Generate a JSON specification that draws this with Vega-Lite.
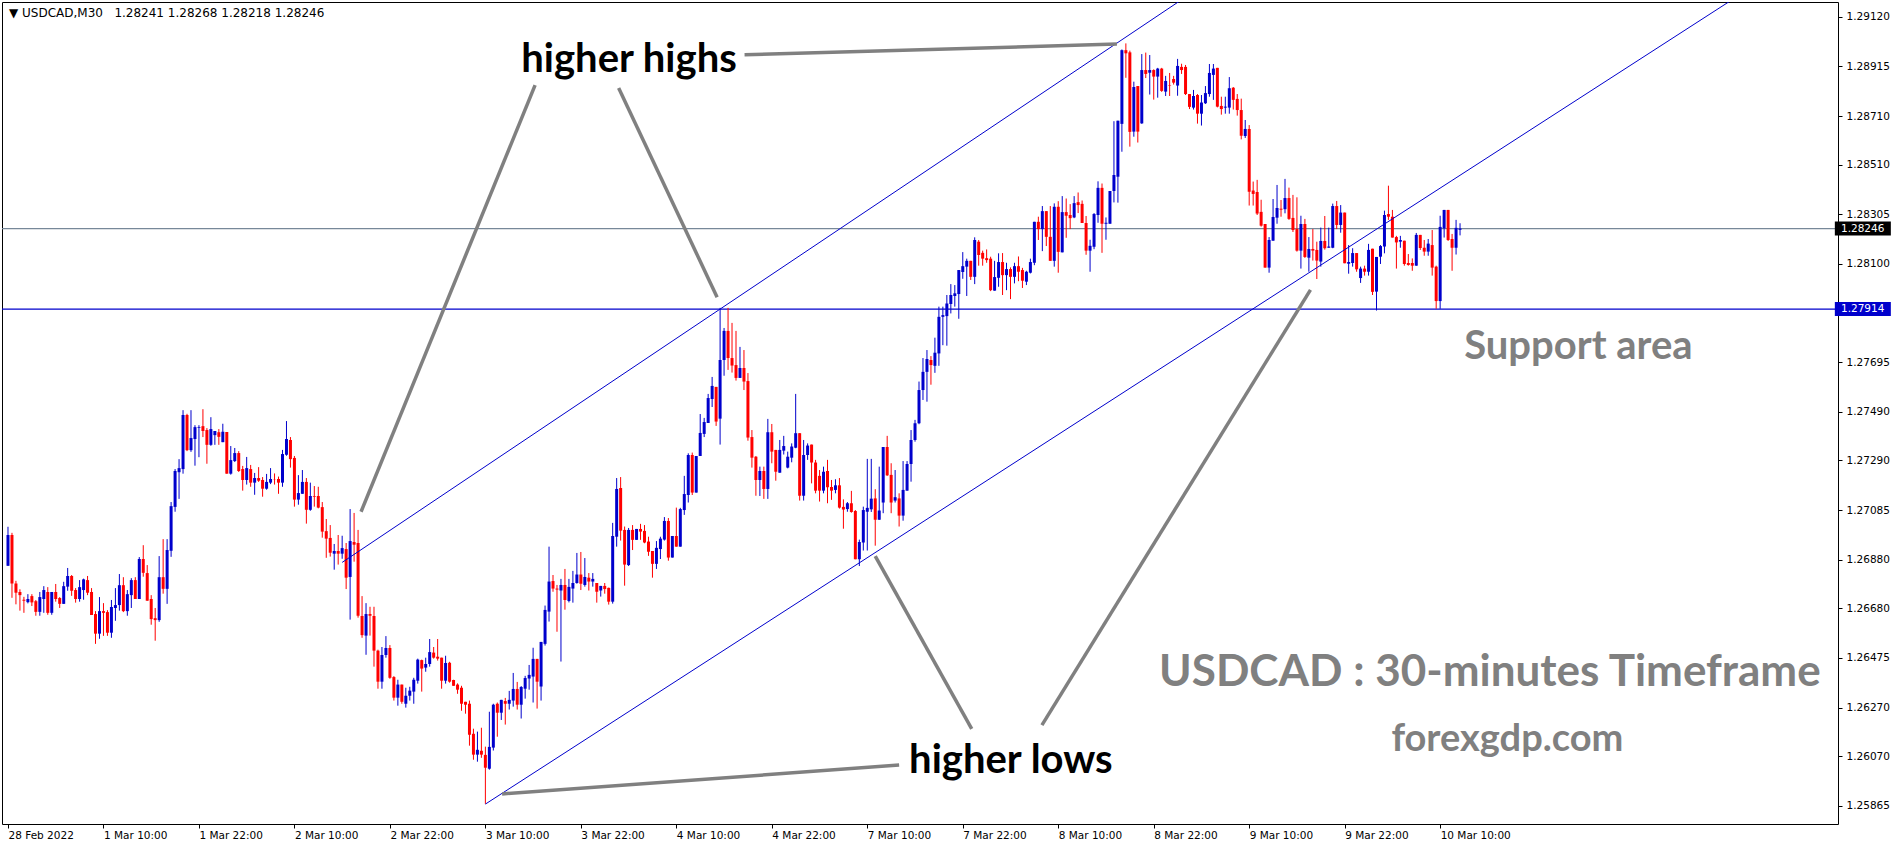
{
  "$schema": "https://vega.github.io/schema/vega-lite/v6.json",
  "description": "USDCAD M30 candlestick chart with rising channel, support area and annotations.",
  "width": 1836,
  "height": 822,
  "autosize": {"type": "none"},
  "padding": {"left": 2, "top": 2, "right": 64, "bottom": 24},
  "background": "#ffffff",
  "config": {
    "view": {"stroke": "#000000", "strokeWidth": 1},
    "axis": {"grid": false, "domain": false, "labelFont": "DejaVu Sans", "labelFontSize": 10.5, "labelColor": "#000000", "tickColor": "#000000", "tickSize": 4}
  },
  "datasets": {
    "candles": [
      {"i":0,"o":1.26855,"h":1.27016,"l":1.26855,"c":1.26982},
      {"i":1,"o":1.26982,"h":1.26991,"l":1.26723,"c":1.26782},
      {"i":2,"o":1.26782,"h":1.26793,"l":1.26696,"c":1.26744},
      {"i":3,"o":1.26747,"h":1.26758,"l":1.26670,"c":1.26734},
      {"i":4,"o":1.26715,"h":1.26727,"l":1.26661,"c":1.26711},
      {"i":5,"o":1.26705,"h":1.26738,"l":1.26700,"c":1.26718},
      {"i":6,"o":1.26730,"h":1.26738,"l":1.26689,"c":1.26704},
      {"i":7,"o":1.26709,"h":1.26714,"l":1.26649,"c":1.26665},
      {"i":8,"o":1.26665,"h":1.26747,"l":1.26649,"c":1.26726},
      {"i":9,"o":1.26718,"h":1.26771,"l":1.26661,"c":1.26755},
      {"i":10,"o":1.26747,"h":1.26767,"l":1.26653,"c":1.26661},
      {"i":11,"o":1.26661,"h":1.26747,"l":1.26653,"c":1.26747},
      {"i":12,"o":1.26747,"h":1.26780,"l":1.26707,"c":1.26718},
      {"i":13,"o":1.26722,"h":1.26726,"l":1.26681,"c":1.26698},
      {"i":14,"o":1.26698,"h":1.26789,"l":1.26698,"c":1.26771},
      {"i":15,"o":1.26769,"h":1.26846,"l":1.26752,"c":1.26813},
      {"i":16,"o":1.26813,"h":1.26817,"l":1.26731,"c":1.26752},
      {"i":17,"o":1.26755,"h":1.26763,"l":1.26703,"c":1.26718},
      {"i":18,"o":1.26718,"h":1.26796,"l":1.26707,"c":1.26767},
      {"i":19,"o":1.26755,"h":1.26802,"l":1.26715,"c":1.26799},
      {"i":20,"o":1.26796,"h":1.26813,"l":1.26734,"c":1.26744},
      {"i":21,"o":1.26747,"h":1.26763,"l":1.26652,"c":1.26652},
      {"i":22,"o":1.26656,"h":1.26668,"l":1.26533,"c":1.26575},
      {"i":23,"o":1.26575,"h":1.26726,"l":1.26554,"c":1.26668},
      {"i":24,"o":1.26668,"h":1.26701,"l":1.26566,"c":1.26661},
      {"i":25,"o":1.26664,"h":1.26672,"l":1.26566,"c":1.26579},
      {"i":26,"o":1.26579,"h":1.26714,"l":1.26558,"c":1.26685},
      {"i":27,"o":1.26681,"h":1.26763,"l":1.26628,"c":1.26693},
      {"i":28,"o":1.26693,"h":1.26821,"l":1.26670,"c":1.26775},
      {"i":29,"o":1.26775,"h":1.26808,"l":1.26664,"c":1.26668},
      {"i":30,"o":1.26668,"h":1.26755,"l":1.26649,"c":1.26738},
      {"i":31,"o":1.26734,"h":1.26804,"l":1.26681,"c":1.26796},
      {"i":32,"o":1.26796,"h":1.26808,"l":1.26718,"c":1.26718},
      {"i":33,"o":1.26718,"h":1.26891,"l":1.26718,"c":1.26883},
      {"i":34,"o":1.26883,"h":1.26940,"l":1.26810,"c":1.26826},
      {"i":35,"o":1.26825,"h":1.26858,"l":1.26711,"c":1.26711},
      {"i":36,"o":1.26718,"h":1.26734,"l":1.26612,"c":1.26635},
      {"i":37,"o":1.26639,"h":1.26681,"l":1.26546,"c":1.26631},
      {"i":38,"o":1.26631,"h":1.26895,"l":1.26624,"c":1.26808},
      {"i":39,"o":1.26808,"h":1.26965,"l":1.26740,"c":1.26760},
      {"i":40,"o":1.26760,"h":1.26965,"l":1.26698,"c":1.26920},
      {"i":41,"o":1.26917,"h":1.27118,"l":1.26892,"c":1.27101},
      {"i":42,"o":1.27098,"h":1.27254,"l":1.27078,"c":1.27246},
      {"i":43,"o":1.27241,"h":1.27295,"l":1.27131,"c":1.27258},
      {"i":44,"o":1.27254,"h":1.27497,"l":1.27235,"c":1.27477},
      {"i":45,"o":1.27477,"h":1.27482,"l":1.27328,"c":1.27332},
      {"i":46,"o":1.27332,"h":1.27497,"l":1.27325,"c":1.27382},
      {"i":47,"o":1.27378,"h":1.27435,"l":1.27268,"c":1.27427},
      {"i":48,"o":1.27424,"h":1.27435,"l":1.27303,"c":1.27427},
      {"i":49,"o":1.27431,"h":1.27501,"l":1.27386,"c":1.27411},
      {"i":50,"o":1.27415,"h":1.27423,"l":1.27276,"c":1.27354},
      {"i":51,"o":1.27354,"h":1.27468,"l":1.27350,"c":1.27419},
      {"i":52,"o":1.27394,"h":1.27411,"l":1.27354,"c":1.27411},
      {"i":53,"o":1.27406,"h":1.27419,"l":1.27354,"c":1.27387},
      {"i":54,"o":1.27365,"h":1.27441,"l":1.27365,"c":1.27408},
      {"i":55,"o":1.27407,"h":1.27407,"l":1.27235,"c":1.27235},
      {"i":56,"o":1.27235,"h":1.27349,"l":1.27231,"c":1.27291},
      {"i":57,"o":1.27287,"h":1.27341,"l":1.27283,"c":1.27320},
      {"i":58,"o":1.27320,"h":1.27328,"l":1.27242,"c":1.27246},
      {"i":59,"o":1.27254,"h":1.27267,"l":1.27165,"c":1.27209},
      {"i":60,"o":1.27209,"h":1.27304,"l":1.27190,"c":1.27258},
      {"i":61,"o":1.27254,"h":1.27271,"l":1.27181,"c":1.27198},
      {"i":62,"o":1.27198,"h":1.27238,"l":1.27148,"c":1.27217},
      {"i":63,"o":1.27217,"h":1.27262,"l":1.27201,"c":1.27206},
      {"i":64,"o":1.27209,"h":1.27221,"l":1.27140,"c":1.27173},
      {"i":65,"o":1.27173,"h":1.27234,"l":1.27169,"c":1.27201},
      {"i":66,"o":1.27198,"h":1.27258,"l":1.27192,"c":1.27213},
      {"i":67,"o":1.27213,"h":1.27236,"l":1.27190,"c":1.27212},
      {"i":68,"o":1.27213,"h":1.27223,"l":1.27152,"c":1.27198},
      {"i":69,"o":1.27198,"h":1.27333,"l":1.27181,"c":1.27316},
      {"i":70,"o":1.27313,"h":1.27452,"l":1.27309,"c":1.27378},
      {"i":71,"o":1.27374,"h":1.27386,"l":1.27260,"c":1.27295},
      {"i":72,"o":1.27300,"h":1.27308,"l":1.27099,"c":1.27128},
      {"i":73,"o":1.27128,"h":1.27229,"l":1.27107,"c":1.27155},
      {"i":74,"o":1.27152,"h":1.27250,"l":1.27152,"c":1.27201},
      {"i":75,"o":1.27201,"h":1.27217,"l":1.27029,"c":1.27086},
      {"i":76,"o":1.27086,"h":1.27198,"l":1.27082,"c":1.27143},
      {"i":77,"o":1.27143,"h":1.27184,"l":1.27099,"c":1.27140},
      {"i":78,"o":1.27143,"h":1.27181,"l":1.27092,"c":1.27095},
      {"i":79,"o":1.27097,"h":1.27118,"l":1.26971,"c":1.26996},
      {"i":80,"o":1.26998,"h":1.27048,"l":1.26888,"c":1.26967},
      {"i":81,"o":1.26970,"h":1.27023,"l":1.26893,"c":1.26909},
      {"i":82,"o":1.26905,"h":1.26945,"l":1.26839,"c":1.26916},
      {"i":83,"o":1.26916,"h":1.26982,"l":1.26860,"c":1.26905},
      {"i":84,"o":1.26905,"h":1.26979,"l":1.26884,"c":1.26928},
      {"i":85,"o":1.26924,"h":1.26949,"l":1.26759,"c":1.26806},
      {"i":86,"o":1.26809,"h":1.27089,"l":1.26633,"c":1.26957},
      {"i":87,"o":1.26953,"h":1.27073,"l":1.26872,"c":1.26942},
      {"i":88,"o":1.26949,"h":1.27003,"l":1.26641,"c":1.26649},
      {"i":89,"o":1.26648,"h":1.26730,"l":1.26558,"c":1.26569},
      {"i":90,"o":1.26567,"h":1.26701,"l":1.26488,"c":1.26656},
      {"i":91,"o":1.26656,"h":1.26686,"l":1.26567,"c":1.26649},
      {"i":92,"o":1.26648,"h":1.26686,"l":1.26439,"c":1.26505},
      {"i":93,"o":1.26505,"h":1.26509,"l":1.26348,"c":1.26377},
      {"i":94,"o":1.26377,"h":1.26520,"l":1.26348,"c":1.26487},
      {"i":95,"o":1.26487,"h":1.26565,"l":1.26476,"c":1.26516},
      {"i":96,"o":1.26516,"h":1.26528,"l":1.26389,"c":1.26393},
      {"i":97,"o":1.26396,"h":1.26400,"l":1.26299,"c":1.26311},
      {"i":98,"o":1.26311,"h":1.26385,"l":1.26278,"c":1.26365},
      {"i":99,"o":1.26365,"h":1.26365,"l":1.26286,"c":1.26294},
      {"i":100,"o":1.26286,"h":1.26352,"l":1.26270,"c":1.26319},
      {"i":101,"o":1.26319,"h":1.26356,"l":1.26299,"c":1.26340},
      {"i":102,"o":1.26336,"h":1.26393,"l":1.26286,"c":1.26385},
      {"i":103,"o":1.26381,"h":1.26472,"l":1.26369,"c":1.26468},
      {"i":104,"o":1.26466,"h":1.26468,"l":1.26336,"c":1.26431},
      {"i":105,"o":1.26435,"h":1.26476,"l":1.26418,"c":1.26450},
      {"i":106,"o":1.26450,"h":1.26553,"l":1.26439,"c":1.26499},
      {"i":107,"o":1.26497,"h":1.26520,"l":1.26472,"c":1.26476},
      {"i":108,"o":1.26480,"h":1.26553,"l":1.26464,"c":1.26472},
      {"i":109,"o":1.26476,"h":1.26476,"l":1.26348,"c":1.26381},
      {"i":110,"o":1.26381,"h":1.26484,"l":1.26369,"c":1.26454},
      {"i":111,"o":1.26455,"h":1.26459,"l":1.26373,"c":1.26377},
      {"i":112,"o":1.26384,"h":1.26385,"l":1.26360,"c":1.26360},
      {"i":113,"o":1.26365,"h":1.26370,"l":1.26327,"c":1.26344},
      {"i":114,"o":1.26352,"h":1.26360,"l":1.26257,"c":1.26286},
      {"i":115,"o":1.26294,"h":1.26294,"l":1.26245,"c":1.26282},
      {"i":116,"o":1.26286,"h":1.26299,"l":1.26113,"c":1.26158},
      {"i":117,"o":1.26162,"h":1.26183,"l":1.26055,"c":1.26076},
      {"i":118,"o":1.26076,"h":1.26171,"l":1.26047,"c":1.26096},
      {"i":119,"o":1.26092,"h":1.26187,"l":1.26063,"c":1.26076},
      {"i":120,"o":1.26075,"h":1.26109,"l":1.25873,"c":1.26022},
      {"i":121,"o":1.26018,"h":1.26253,"l":1.26014,"c":1.26108},
      {"i":122,"o":1.26105,"h":1.26286,"l":1.26093,"c":1.26282},
      {"i":123,"o":1.26286,"h":1.26291,"l":1.26150,"c":1.26249},
      {"i":124,"o":1.26249,"h":1.26302,"l":1.26219,"c":1.26302},
      {"i":125,"o":1.26297,"h":1.26310,"l":1.26200,"c":1.26286},
      {"i":126,"o":1.26286,"h":1.26339,"l":1.26262,"c":1.26302},
      {"i":127,"o":1.26299,"h":1.26413,"l":1.26274,"c":1.26347},
      {"i":128,"o":1.26347,"h":1.26376,"l":1.26262,"c":1.26282},
      {"i":129,"o":1.26282,"h":1.26359,"l":1.26225,"c":1.26355},
      {"i":130,"o":1.26348,"h":1.26401,"l":1.26307,"c":1.26392},
      {"i":131,"o":1.26390,"h":1.26446,"l":1.26344,"c":1.26405},
      {"i":132,"o":1.26398,"h":1.26517,"l":1.26291,"c":1.26471},
      {"i":133,"o":1.26471,"h":1.26471,"l":1.26266,"c":1.26377},
      {"i":134,"o":1.26357,"h":1.26541,"l":1.26299,"c":1.26541},
      {"i":135,"o":1.26533,"h":1.26691,"l":1.26526,"c":1.26673},
      {"i":136,"o":1.26666,"h":1.26934,"l":1.26625,"c":1.26790},
      {"i":137,"o":1.26792,"h":1.26817,"l":1.26748,"c":1.26761},
      {"i":138,"o":1.26761,"h":1.26776,"l":1.26583,"c":1.26757},
      {"i":139,"o":1.26753,"h":1.26801,"l":1.26460,"c":1.26776},
      {"i":140,"o":1.26776,"h":1.26842,"l":1.26674,"c":1.26714},
      {"i":141,"o":1.26710,"h":1.26801,"l":1.26704,"c":1.26768},
      {"i":142,"o":1.26761,"h":1.26834,"l":1.26703,"c":1.26784},
      {"i":143,"o":1.26784,"h":1.26908,"l":1.26781,"c":1.26819},
      {"i":144,"o":1.26819,"h":1.26912,"l":1.26755,"c":1.26781},
      {"i":145,"o":1.26776,"h":1.26887,"l":1.26769,"c":1.26809},
      {"i":146,"o":1.26806,"h":1.26825,"l":1.26753,"c":1.26790},
      {"i":147,"o":1.26790,"h":1.26825,"l":1.26769,"c":1.26801},
      {"i":148,"o":1.26784,"h":1.26784,"l":1.26703,"c":1.26748},
      {"i":149,"o":1.26753,"h":1.26772,"l":1.26728,"c":1.26772},
      {"i":150,"o":1.26772,"h":1.26784,"l":1.26740,"c":1.26759},
      {"i":151,"o":1.26764,"h":1.26765,"l":1.26695,"c":1.26707},
      {"i":152,"o":1.26707,"h":1.27032,"l":1.26699,"c":1.26978},
      {"i":153,"o":1.26975,"h":1.27217,"l":1.26934,"c":1.27172},
      {"i":154,"o":1.27176,"h":1.27221,"l":1.26959,"c":1.27000},
      {"i":155,"o":1.27003,"h":1.27017,"l":1.26773,"c":1.26860},
      {"i":156,"o":1.26858,"h":1.27011,"l":1.26854,"c":1.27003},
      {"i":157,"o":1.27003,"h":1.27023,"l":1.26920,"c":1.26962},
      {"i":158,"o":1.26962,"h":1.27007,"l":1.26962,"c":1.27007},
      {"i":159,"o":1.27007,"h":1.27028,"l":1.26962,"c":1.26996},
      {"i":160,"o":1.26999,"h":1.27023,"l":1.26948,"c":1.26951},
      {"i":161,"o":1.26955,"h":1.26975,"l":1.26896,"c":1.26913},
      {"i":162,"o":1.26916,"h":1.26916,"l":1.26806,"c":1.26863},
      {"i":163,"o":1.26863,"h":1.26957,"l":1.26842,"c":1.26929},
      {"i":164,"o":1.26924,"h":1.26975,"l":1.26883,"c":1.26967},
      {"i":165,"o":1.26963,"h":1.27056,"l":1.26959,"c":1.27040},
      {"i":166,"o":1.27040,"h":1.27052,"l":1.26876,"c":1.26889},
      {"i":167,"o":1.26889,"h":1.26978,"l":1.26889,"c":1.26978},
      {"i":168,"o":1.26978,"h":1.27095,"l":1.26934,"c":1.26934},
      {"i":169,"o":1.26934,"h":1.27094,"l":1.26934,"c":1.27089},
      {"i":170,"o":1.27085,"h":1.27226,"l":1.27065,"c":1.27151},
      {"i":171,"o":1.27147,"h":1.27319,"l":1.27116,"c":1.27312},
      {"i":172,"o":1.27312,"h":1.27322,"l":1.27147,"c":1.27157},
      {"i":173,"o":1.27157,"h":1.27308,"l":1.27157,"c":1.27308},
      {"i":174,"o":1.27308,"h":1.27481,"l":1.27308,"c":1.27403},
      {"i":175,"o":1.27399,"h":1.27465,"l":1.27386,"c":1.27448},
      {"i":176,"o":1.27444,"h":1.27564,"l":1.27444,"c":1.27547},
      {"i":177,"o":1.27543,"h":1.27634,"l":1.27510,"c":1.27597},
      {"i":178,"o":1.27593,"h":1.27593,"l":1.27432,"c":1.27450},
      {"i":179,"o":1.27462,"h":1.27919,"l":1.27355,"c":1.27704},
      {"i":180,"o":1.27704,"h":1.27836,"l":1.27639,"c":1.27824},
      {"i":181,"o":1.27824,"h":1.27919,"l":1.27663,"c":1.27712},
      {"i":182,"o":1.27712,"h":1.27857,"l":1.27652,"c":1.27681},
      {"i":183,"o":1.27683,"h":1.27824,"l":1.27619,"c":1.27630},
      {"i":184,"o":1.27630,"h":1.27758,"l":1.27630,"c":1.27671},
      {"i":185,"o":1.27671,"h":1.27745,"l":1.27580,"c":1.27615},
      {"i":186,"o":1.27617,"h":1.27650,"l":1.27371,"c":1.27384},
      {"i":187,"o":1.27386,"h":1.27415,"l":1.27260,"c":1.27301},
      {"i":188,"o":1.27305,"h":1.27308,"l":1.27144,"c":1.27209},
      {"i":189,"o":1.27209,"h":1.27264,"l":1.27143,"c":1.27246},
      {"i":190,"o":1.27246,"h":1.27264,"l":1.27131,"c":1.27172},
      {"i":191,"o":1.27172,"h":1.27461,"l":1.27131,"c":1.27406},
      {"i":192,"o":1.27406,"h":1.27440,"l":1.27278,"c":1.27326},
      {"i":193,"o":1.27333,"h":1.27333,"l":1.27206,"c":1.27243},
      {"i":194,"o":1.27239,"h":1.27374,"l":1.27239,"c":1.27333},
      {"i":195,"o":1.27330,"h":1.27391,"l":1.27314,"c":1.27349},
      {"i":196,"o":1.27260,"h":1.27326,"l":1.27257,"c":1.27305},
      {"i":197,"o":1.27301,"h":1.27360,"l":1.27282,"c":1.27347},
      {"i":198,"o":1.27342,"h":1.27564,"l":1.27340,"c":1.27402},
      {"i":199,"o":1.27402,"h":1.27402,"l":1.27124,"c":1.27144},
      {"i":200,"o":1.27144,"h":1.27374,"l":1.27124,"c":1.27312},
      {"i":201,"o":1.27312,"h":1.27360,"l":1.27292,"c":1.27351},
      {"i":202,"o":1.27355,"h":1.27355,"l":1.27195,"c":1.27281},
      {"i":203,"o":1.27281,"h":1.27292,"l":1.27154,"c":1.27165},
      {"i":204,"o":1.27226,"h":1.27250,"l":1.27120,"c":1.27165},
      {"i":205,"o":1.27165,"h":1.27264,"l":1.27154,"c":1.27243},
      {"i":206,"o":1.27246,"h":1.27292,"l":1.27113,"c":1.27179},
      {"i":207,"o":1.27180,"h":1.27209,"l":1.27127,"c":1.27165},
      {"i":208,"o":1.27168,"h":1.27212,"l":1.27154,"c":1.27187},
      {"i":209,"o":1.27187,"h":1.27217,"l":1.27091,"c":1.27095},
      {"i":210,"o":1.27098,"h":1.27129,"l":1.27008,"c":1.27087},
      {"i":211,"o":1.27089,"h":1.27118,"l":1.27078,"c":1.27113},
      {"i":212,"o":1.27113,"h":1.27164,"l":1.27074,"c":1.27077},
      {"i":213,"o":1.27081,"h":1.27085,"l":1.26882,"c":1.26882},
      {"i":214,"o":1.26882,"h":1.26963,"l":1.26854,"c":1.26953},
      {"i":215,"o":1.26951,"h":1.27099,"l":1.26918,"c":1.27085},
      {"i":216,"o":1.27078,"h":1.27296,"l":1.26918,"c":1.27094},
      {"i":217,"o":1.27088,"h":1.27296,"l":1.27077,"c":1.27132},
      {"i":218,"o":1.27133,"h":1.27171,"l":1.26938,"c":1.27045},
      {"i":219,"o":1.27045,"h":1.27264,"l":1.27045,"c":1.27083},
      {"i":220,"o":1.27116,"h":1.27345,"l":1.27072,"c":1.27345},
      {"i":221,"o":1.27345,"h":1.27391,"l":1.27226,"c":1.27228},
      {"i":222,"o":1.27230,"h":1.27278,"l":1.27072,"c":1.27116},
      {"i":223,"o":1.27124,"h":1.27250,"l":1.27116,"c":1.27138},
      {"i":224,"o":1.27133,"h":1.27154,"l":1.27017,"c":1.27062},
      {"i":225,"o":1.27062,"h":1.27287,"l":1.27041,"c":1.27168},
      {"i":226,"o":1.27165,"h":1.27287,"l":1.27165,"c":1.27275},
      {"i":227,"o":1.27275,"h":1.27415,"l":1.27202,"c":1.27374},
      {"i":228,"o":1.27374,"h":1.27457,"l":1.27367,"c":1.27443},
      {"i":229,"o":1.27443,"h":1.27615,"l":1.27439,"c":1.27580},
      {"i":230,"o":1.27580,"h":1.27712,"l":1.27539,"c":1.27655},
      {"i":231,"o":1.27655,"h":1.27745,"l":1.27532,"c":1.27708},
      {"i":232,"o":1.27704,"h":1.27720,"l":1.27602,"c":1.27683},
      {"i":233,"o":1.27680,"h":1.27796,"l":1.27651,"c":1.27734},
      {"i":234,"o":1.27731,"h":1.27924,"l":1.27680,"c":1.27882},
      {"i":235,"o":1.27882,"h":1.27924,"l":1.27765,"c":1.27889},
      {"i":236,"o":1.27885,"h":1.27972,"l":1.27763,"c":1.27937},
      {"i":237,"o":1.27935,"h":1.28017,"l":1.27896,"c":1.27972},
      {"i":238,"o":1.27968,"h":1.28013,"l":1.27924,"c":1.27979},
      {"i":239,"o":1.27976,"h":1.28075,"l":1.27874,"c":1.28075},
      {"i":240,"o":1.28067,"h":1.28149,"l":1.28039,"c":1.28091},
      {"i":241,"o":1.28089,"h":1.28122,"l":1.27968,"c":1.28113},
      {"i":242,"o":1.28113,"h":1.28113,"l":1.28034,"c":1.28047},
      {"i":243,"o":1.28047,"h":1.28210,"l":1.28017,"c":1.28199},
      {"i":244,"o":1.28192,"h":1.28199,"l":1.28093,"c":1.28137},
      {"i":245,"o":1.28146,"h":1.28155,"l":1.28093,"c":1.28122},
      {"i":246,"o":1.28124,"h":1.28160,"l":1.28105,"c":1.28116},
      {"i":247,"o":1.28122,"h":1.28130,"l":1.27988,"c":1.27992},
      {"i":248,"o":1.27990,"h":1.28113,"l":1.27990,"c":1.28046},
      {"i":249,"o":1.28043,"h":1.28144,"l":1.28006,"c":1.28108},
      {"i":250,"o":1.28108,"h":1.28145,"l":1.27972,"c":1.28054},
      {"i":251,"o":1.28054,"h":1.28105,"l":1.27992,"c":1.28079},
      {"i":252,"o":1.28079,"h":1.28086,"l":1.27955,"c":1.28047},
      {"i":253,"o":1.28047,"h":1.28105,"l":1.28020,"c":1.28091},
      {"i":254,"o":1.28091,"h":1.28131,"l":1.28029,"c":1.28068},
      {"i":255,"o":1.28075,"h":1.28084,"l":1.28001,"c":1.28031},
      {"i":256,"o":1.28027,"h":1.28072,"l":1.28013,"c":1.28068},
      {"i":257,"o":1.28064,"h":1.28122,"l":1.28061,"c":1.28108},
      {"i":258,"o":1.28105,"h":1.28274,"l":1.28095,"c":1.28274},
      {"i":259,"o":1.28274,"h":1.28295,"l":1.28199,"c":1.28244},
      {"i":260,"o":1.28244,"h":1.28339,"l":1.28153,"c":1.28318},
      {"i":261,"o":1.28318,"h":1.28318,"l":1.28174,"c":1.28212},
      {"i":262,"o":1.28212,"h":1.28339,"l":1.28113,"c":1.28113},
      {"i":263,"o":1.28113,"h":1.28350,"l":1.28089,"c":1.28336},
      {"i":264,"o":1.28336,"h":1.28359,"l":1.28064,"c":1.28150},
      {"i":265,"o":1.28148,"h":1.28380,"l":1.28148,"c":1.28314},
      {"i":266,"o":1.28314,"h":1.28370,"l":1.28208,"c":1.28299},
      {"i":267,"o":1.28302,"h":1.28347,"l":1.28244,"c":1.28289},
      {"i":268,"o":1.28292,"h":1.28380,"l":1.28289,"c":1.28351},
      {"i":269,"o":1.28355,"h":1.28395,"l":1.28310,"c":1.28343},
      {"i":270,"o":1.28348,"h":1.28362,"l":1.28269,"c":1.28269},
      {"i":271,"o":1.28269,"h":1.28298,"l":1.28138,"c":1.28155},
      {"i":272,"o":1.28155,"h":1.28200,"l":1.28068,"c":1.28175},
      {"i":273,"o":1.28171,"h":1.28310,"l":1.28161,"c":1.28306},
      {"i":274,"o":1.28302,"h":1.28441,"l":1.28270,"c":1.28414},
      {"i":275,"o":1.28414,"h":1.28432,"l":1.28146,"c":1.28266},
      {"i":276,"o":1.28266,"h":1.28292,"l":1.28200,"c":1.28270},
      {"i":277,"o":1.28266,"h":1.28401,"l":1.28266,"c":1.28401},
      {"i":278,"o":1.28401,"h":1.28689,"l":1.28354,"c":1.28467},
      {"i":279,"o":1.28460,"h":1.28691,"l":1.28353,"c":1.28691},
      {"i":280,"o":1.28678,"h":1.28985,"l":1.28563,"c":1.28982},
      {"i":281,"o":1.28982,"h":1.29010,"l":1.28868,"c":1.28969},
      {"i":282,"o":1.28973,"h":1.28980,"l":1.28584,"c":1.28645},
      {"i":283,"o":1.28646,"h":1.28852,"l":1.28625,"c":1.28830},
      {"i":284,"o":1.28834,"h":1.28834,"l":1.28601,"c":1.28646},
      {"i":285,"o":1.28680,"h":1.28966,"l":1.28678,"c":1.28900},
      {"i":286,"o":1.28900,"h":1.28972,"l":1.28867,"c":1.28884},
      {"i":287,"o":1.28889,"h":1.28962,"l":1.28799,"c":1.28900},
      {"i":288,"o":1.28900,"h":1.28903,"l":1.28778,"c":1.28873},
      {"i":289,"o":1.28873,"h":1.28909,"l":1.28786,"c":1.28906},
      {"i":290,"o":1.28906,"h":1.28909,"l":1.28810,"c":1.28814},
      {"i":291,"o":1.28811,"h":1.28876,"l":1.28793,"c":1.28855},
      {"i":292,"o":1.28838,"h":1.28888,"l":1.28793,"c":1.28836},
      {"i":293,"o":1.28863,"h":1.28876,"l":1.28840,"c":1.28848},
      {"i":294,"o":1.28836,"h":1.28946,"l":1.28794,"c":1.28917},
      {"i":295,"o":1.28913,"h":1.28926,"l":1.28884,"c":1.28900},
      {"i":296,"o":1.28913,"h":1.28921,"l":1.28797,"c":1.28801},
      {"i":297,"o":1.28801,"h":1.28801,"l":1.28739,"c":1.28748},
      {"i":298,"o":1.28745,"h":1.28818,"l":1.28737,"c":1.28793},
      {"i":299,"o":1.28797,"h":1.28801,"l":1.28679,"c":1.28720},
      {"i":300,"o":1.28720,"h":1.28797,"l":1.28671,"c":1.28766},
      {"i":301,"o":1.28763,"h":1.28834,"l":1.28760,"c":1.28805},
      {"i":302,"o":1.28801,"h":1.28925,"l":1.28790,"c":1.28888},
      {"i":303,"o":1.28880,"h":1.28925,"l":1.28777,"c":1.28906},
      {"i":304,"o":1.28909,"h":1.28909,"l":1.28746,"c":1.28749},
      {"i":305,"o":1.28752,"h":1.28790,"l":1.28716,"c":1.28739},
      {"i":306,"o":1.28745,"h":1.28790,"l":1.28720,"c":1.28749},
      {"i":307,"o":1.28745,"h":1.28871,"l":1.28720,"c":1.28825},
      {"i":308,"o":1.28827,"h":1.28830,"l":1.28737,"c":1.28777},
      {"i":309,"o":1.28781,"h":1.28801,"l":1.28712,"c":1.28735},
      {"i":310,"o":1.28735,"h":1.28782,"l":1.28614,"c":1.28629},
      {"i":311,"o":1.28628,"h":1.28694,"l":1.28620,"c":1.28657},
      {"i":312,"o":1.28657,"h":1.28673,"l":1.28341,"c":1.28398},
      {"i":313,"o":1.28403,"h":1.28440,"l":1.28341,"c":1.28389},
      {"i":314,"o":1.28397,"h":1.28447,"l":1.28302,"c":1.28308},
      {"i":315,"o":1.28315,"h":1.28365,"l":1.28254,"c":1.28258},
      {"i":316,"o":1.28265,"h":1.28265,"l":1.28085,"c":1.28085},
      {"i":317,"o":1.28085,"h":1.28211,"l":1.28064,"c":1.28199},
      {"i":318,"o":1.28196,"h":1.28368,"l":1.28196,"c":1.28294},
      {"i":319,"o":1.28291,"h":1.28426,"l":1.28266,"c":1.28331},
      {"i":320,"o":1.28328,"h":1.28364,"l":1.28295,"c":1.28324},
      {"i":321,"o":1.28326,"h":1.28451,"l":1.28309,"c":1.28372},
      {"i":322,"o":1.28372,"h":1.28415,"l":1.28282,"c":1.28286},
      {"i":323,"o":1.28290,"h":1.28385,"l":1.28232,"c":1.28240},
      {"i":324,"o":1.28244,"h":1.28375,"l":1.28151,"c":1.28155},
      {"i":325,"o":1.28155,"h":1.28299,"l":1.28081,"c":1.28265},
      {"i":326,"o":1.28265,"h":1.28286,"l":1.28125,"c":1.28129},
      {"i":327,"o":1.28126,"h":1.28211,"l":1.28068,"c":1.28162},
      {"i":328,"o":1.28162,"h":1.28244,"l":1.28114,"c":1.28155},
      {"i":329,"o":1.28158,"h":1.28192,"l":1.28038,"c":1.28114},
      {"i":330,"o":1.28110,"h":1.28250,"l":1.28089,"c":1.28195},
      {"i":331,"o":1.28195,"h":1.28298,"l":1.28159,"c":1.28165},
      {"i":332,"o":1.28167,"h":1.28250,"l":1.28167,"c":1.28172},
      {"i":333,"o":1.28167,"h":1.28349,"l":1.28165,"c":1.28339},
      {"i":334,"o":1.28339,"h":1.28360,"l":1.28244,"c":1.28261},
      {"i":335,"o":1.28261,"h":1.28343,"l":1.28229,"c":1.28312},
      {"i":336,"o":1.28312,"h":1.28312,"l":1.28103,"c":1.28103},
      {"i":337,"o":1.28101,"h":1.28178,"l":1.28060,"c":1.28108},
      {"i":338,"o":1.28104,"h":1.28165,"l":1.28089,"c":1.28145},
      {"i":339,"o":1.28145,"h":1.28145,"l":1.28068,"c":1.28078},
      {"i":340,"o":1.28042,"h":1.28089,"l":1.28022,"c":1.28081},
      {"i":341,"o":1.28081,"h":1.28093,"l":1.28052,"c":1.28068},
      {"i":342,"o":1.28068,"h":1.28183,"l":1.28052,"c":1.28158},
      {"i":343,"o":1.28163,"h":1.28163,"l":1.27972,"c":1.27985},
      {"i":344,"o":1.27986,"h":1.28129,"l":1.27908,"c":1.28129},
      {"i":345,"o":1.28130,"h":1.28178,"l":1.28100,"c":1.28174},
      {"i":346,"o":1.28172,"h":1.28320,"l":1.28144,"c":1.28302},
      {"i":347,"o":1.28306,"h":1.28423,"l":1.28282,"c":1.28295},
      {"i":348,"o":1.28295,"h":1.28323,"l":1.28209,"c":1.28209},
      {"i":349,"o":1.28211,"h":1.28216,"l":1.28081,"c":1.28189},
      {"i":350,"o":1.28192,"h":1.28216,"l":1.28167,"c":1.28199},
      {"i":351,"o":1.28196,"h":1.28196,"l":1.28093,"c":1.28100},
      {"i":352,"o":1.28104,"h":1.28141,"l":1.28093,"c":1.28096},
      {"i":353,"o":1.28104,"h":1.28123,"l":1.28072,"c":1.28093},
      {"i":354,"o":1.28093,"h":1.28228,"l":1.28093,"c":1.28220},
      {"i":355,"o":1.28220,"h":1.28220,"l":1.28158,"c":1.28166},
      {"i":356,"o":1.28167,"h":1.28199,"l":1.28134,"c":1.28151},
      {"i":357,"o":1.28151,"h":1.28203,"l":1.28134,"c":1.28184},
      {"i":358,"o":1.28178,"h":1.28240,"l":1.28052,"c":1.28085},
      {"i":359,"o":1.28089,"h":1.28093,"l":1.27915,"c":1.27947},
      {"i":360,"o":1.27947,"h":1.28299,"l":1.27915,"c":1.28253},
      {"i":361,"o":1.28247,"h":1.28323,"l":1.28209,"c":1.28323},
      {"i":362,"o":1.28323,"h":1.28323,"l":1.28195,"c":1.28199},
      {"i":363,"o":1.28203,"h":1.28224,"l":1.28072,"c":1.28167},
      {"i":364,"o":1.28167,"h":1.28282,"l":1.28139,"c":1.28249},
      {"i":365,"o":1.28241,"h":1.28268,"l":1.28218,"c":1.28246}
    ],
    "levels": [
      {"kind": "price", "p": 1.28246, "tag": "1.28246"},
      {"kind": "support", "p": 1.27914, "tag": "1.27914"}
    ],
    "channel": [
      {"id": "upper", "i": 84, "p": 1.26869},
      {"id": "upper", "i": 300, "p": 1.29245},
      {"id": "lower", "i": 120, "p": 1.25872},
      {"id": "lower", "i": 440, "p": 1.29260}
    ],
    "leaders": [
      {"id": "hh-top", "i": 185.15, "p": 1.28963},
      {"id": "hh-top", "i": 278.75, "p": 1.29007},
      {"id": "hh-left", "i": 132.5, "p": 1.28838},
      {"id": "hh-left", "i": 88.75, "p": 1.27078},
      {"id": "hh-right", "i": 153.5, "p": 1.28826},
      {"id": "hh-right", "i": 178.25, "p": 1.27963},
      {"id": "hl-bottom", "i": 124.2, "p": 1.25914},
      {"id": "hl-bottom", "i": 224, "p": 1.26033},
      {"id": "hl-left", "i": 242.25, "p": 1.26182},
      {"id": "hl-left", "i": 218, "p": 1.26895},
      {"id": "hl-right", "i": 259.9, "p": 1.26198},
      {"id": "hl-right", "i": 327.4, "p": 1.27993}
    ],
    "notes": [
      {"label": "higher highs", "role": "pattern", "i": 156.1, "p": 1.28893},
      {"label": "higher lows", "role": "pattern", "i": 252.1, "p": 1.26002},
      {"label": "Support area", "role": "zone", "i": 394.75, "p": 1.2771},
      {"label": "USDCAD : 30-minutes Timeframe", "role": "caption", "i": 372.5, "p": 1.26359},
      {"label": "forexgdp.com", "role": "site", "i": 376.9, "p": 1.26089}
    ],
    "header": [
      {"label": "▼ USDCAD,M30\u00a0\u00a0 1.28241 1.28268 1.28218 1.28246", "i": 0.25, "p": 1.29117}
    ]
  },
  "layer": [
    {
      "data": {"name": "levels"},
      "mark": {"type": "rule", "strokeWidth": 1.2},
      "encoding": {
        "y": {
          "field": "p", "type": "quantitative", "title": null,
          "scale": {"domain": [1.257899, 1.291807], "nice": false, "zero": false},
          "axis": {
            "orient": "right", "title": null, "format": ".5f", "labelPadding": 4,
            "values": [1.2912, 1.28915, 1.2871, 1.2851, 1.28305, 1.281, 1.27695, 1.2749, 1.2729, 1.27085, 1.2688, 1.2668, 1.26475, 1.2627, 1.2607, 1.25865]
          }
        },
        "color": {"condition": {"test": "datum.kind == 'support'", "value": "#0000cc"}, "value": "#778899"}
      }
    },
    {
      "data": {"name": "candles"},
      "mark": {"type": "rule", "strokeWidth": 1},
      "encoding": {
        "x": {
          "field": "i", "type": "quantitative", "title": null,
          "scale": {"domain": [-0.25, 458.75], "nice": false, "zero": false},
          "axis": {
            "orient": "bottom", "title": null, "labelAlign": "left", "labelBaseline": "top", "labelPadding": 2,
            "labelFlush": false, "labelOverlap": false,
            "values": [0, 24, 48, 72, 96, 120, 144, 168, 192, 216, 240, 264, 288, 312, 336, 360],
            "labelExpr": "['28 Feb 2022','1 Mar 10:00','1 Mar 22:00','2 Mar 10:00','2 Mar 22:00','3 Mar 10:00','3 Mar 22:00','4 Mar 10:00','4 Mar 22:00','7 Mar 10:00','7 Mar 22:00','8 Mar 10:00','8 Mar 22:00','9 Mar 10:00','9 Mar 22:00','10 Mar 10:00'][round(datum.value / 24)]"
          }
        },
        "y": {"field": "l", "type": "quantitative", "title": null},
        "y2": {"field": "h"},
        "color": {"condition": {"test": "datum.c >= datum.o", "value": "#0000cc"}, "value": "#ff0000"}
      }
    },
    {
      "data": {"name": "candles"},
      "mark": {"type": "bar", "width": 3, "minBandSize": 1},
      "encoding": {
        "x": {"field": "i", "type": "quantitative", "title": null},
        "y": {"field": "o", "type": "quantitative", "title": null},
        "y2": {"field": "c"},
        "color": {"condition": {"test": "datum.c >= datum.o", "value": "#0000cc"}, "value": "#ff0000"}
      }
    },
    {
      "data": {"name": "channel"},
      "mark": {"type": "line", "clip": true, "color": "#0000cc", "strokeWidth": 1},
      "encoding": {
        "x": {"field": "i", "type": "quantitative", "title": null},
        "y": {"field": "p", "type": "quantitative", "title": null},
        "detail": {"field": "id"}
      }
    },
    {
      "data": {"name": "leaders"},
      "mark": {"type": "line", "clip": true, "color": "#808080", "strokeWidth": 3.5},
      "encoding": {
        "x": {"field": "i", "type": "quantitative", "title": null},
        "y": {"field": "p", "type": "quantitative", "title": null},
        "detail": {"field": "id"}
      }
    },
    {
      "data": {"name": "notes"},
      "mark": {"type": "text", "font": "Lato", "fontWeight": "bold", "align": "center", "baseline": "alphabetic"},
      "encoding": {
        "x": {"field": "i", "type": "quantitative", "title": null},
        "y": {"field": "p", "type": "quantitative", "title": null},
        "text": {"field": "label"},
        "color": {"condition": {"test": "datum.role == 'pattern'", "value": "#000000"}, "value": "#808080"},
        "size": {"condition": [
          {"test": "datum.role == 'caption'", "value": 44},
          {"test": "datum.role == 'site'", "value": 38}
        ], "value": 40}
      }
    },
    {
      "data": {"name": "header"},
      "mark": {"type": "text", "font": "DejaVu Sans", "fontSize": 12, "align": "left", "baseline": "alphabetic", "color": "#000000"},
      "encoding": {
        "x": {"field": "i", "type": "quantitative", "title": null},
        "y": {"field": "p", "type": "quantitative", "title": null},
        "text": {"field": "label"}
      }
    },
    {
      "data": {"name": "levels"},
      "mark": {"type": "tick", "orient": "horizontal", "size": 56, "thickness": 14, "opacity": 1},
      "encoding": {
        "x": {"datum": 466.25, "type": "quantitative"},
        "y": {"field": "p", "type": "quantitative", "title": null},
        "color": {"condition": {"test": "datum.kind == 'support'", "value": "#0000cc"}, "value": "#000000"}
      }
    },
    {
      "data": {"name": "levels"},
      "mark": {"type": "text", "font": "DejaVu Sans", "fontSize": 10.5, "align": "left", "baseline": "middle", "color": "#ffffff"},
      "encoding": {
        "x": {"datum": 460.75, "type": "quantitative"},
        "y": {"field": "p", "type": "quantitative", "title": null},
        "text": {"field": "tag"}
      }
    }
  ]
}
